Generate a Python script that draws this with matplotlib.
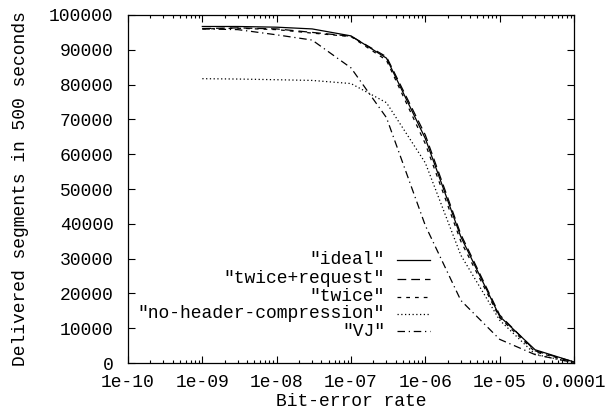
import numpy as np
import matplotlib
matplotlib.use("Agg")
import matplotlib.pyplot as plt
from matplotlib.lines import Line2D

# bit-error rates used in the runs
ber = [1e-9, 3e-9, 1e-8, 3e-8, 1e-7, 3e-7, 1e-6, 3e-6, 1e-5, 3e-5, 1e-4]

ideal         = [96700, 96700, 96500, 96000, 94000, 87600, 64500, 36300, 13400, 3800, 300]
twice_request = [96100, 96300, 96000, 95000, 93900, 88000, 65500, 37000, 13800, 3500, 300]
twice         = [96000, 96200, 95800, 94800, 93800, 87000, 63000, 35000, 13000, 3200, 200]
no_header     = [81700, 81600, 81400, 81200, 80300, 74800, 57500, 31000, 12300, 2500, 100]
vj            = [96000, 95800, 94300, 92800, 84800, 70500, 39500, 18000, 6800, 2400, 100]

labels = ['"ideal"', '"twice+request"', '"twice"', '"no-header-compression"', '"VJ"']
styles = ['-', (0, (7, 4)), (0, (3, 4)), (0, (1, 2)), (0, (6, 3, 1, 3))]

plt.rcParams['font.family'] = ['Liberation Mono', 'DejaVu Sans Mono']
textsize = 13

W, H = 607, 409
fig = plt.figure(figsize=[W/100, H/100], dpi=100)
ax = fig.add_axes([128/W, 1-363/H, (574-128)/W, (363-15)/H])

series = [ideal, twice_request, twice, no_header, vj]
for vals, lab, ls in zip(series, labels, styles):
    ax.plot(ber, vals, color='k', lw=0.9, ls=ls, label=lab)

ax.set_xscale('log')
ax.set_xlim(1e-10, 1e-4)
ax.set_ylim(0, 100000)
ax.set_xticks([1e-10, 1e-9, 1e-8, 1e-7, 1e-6, 1e-5, 1e-4])
ax.set_xticklabels(['1e-10', '1e-09', '1e-08', '1e-07', '1e-06', '1e-05', '0.0001'])
ax.set_yticks(np.arange(0, 100001, 10000))
ax.set_yticklabels([str(v) for v in range(0, 100001, 10000)])
ax.minorticks_on()
ax.yaxis.set_minor_locator(matplotlib.ticker.NullLocator())

ax.tick_params(axis='both', which='both', direction='in', top=True, right=True,
               labelsize=textsize, width=0.8)
ax.tick_params(axis='both', which='major', length=5)
ax.tick_params(axis='x', which='minor', length=2.5)
ax.tick_params(axis='y', which='major', pad=10.5)
ax.tick_params(axis='x', which='major', pad=8)
for s in ax.spines.values():
    s.set_linewidth(0.9)

ax.set_xlabel('Bit-error rate', fontsize=textsize, labelpad=1)
ax.set_ylabel('Delivered segments in 500 seconds', fontsize=textsize, labelpad=14)

# gnuplot-style key: right-aligned text followed by the line sample
fx = lambda px: px / W
fy = lambda py: 1 - py / H
row_y = [260, 278.5, 296.5, 314, 331]
for lab, ls, py in zip(labels, styles, row_y):
    fig.text(fx(385), fy(py), lab, ha='right', va='center', fontsize=textsize)
    fig.add_artist(Line2D([fx(397), fx(430)], [fy(py), fy(py)], color='k',
                          lw=0.9, ls=ls, transform=fig.transFigure))

fig.savefig('out.png', dpi=100)
